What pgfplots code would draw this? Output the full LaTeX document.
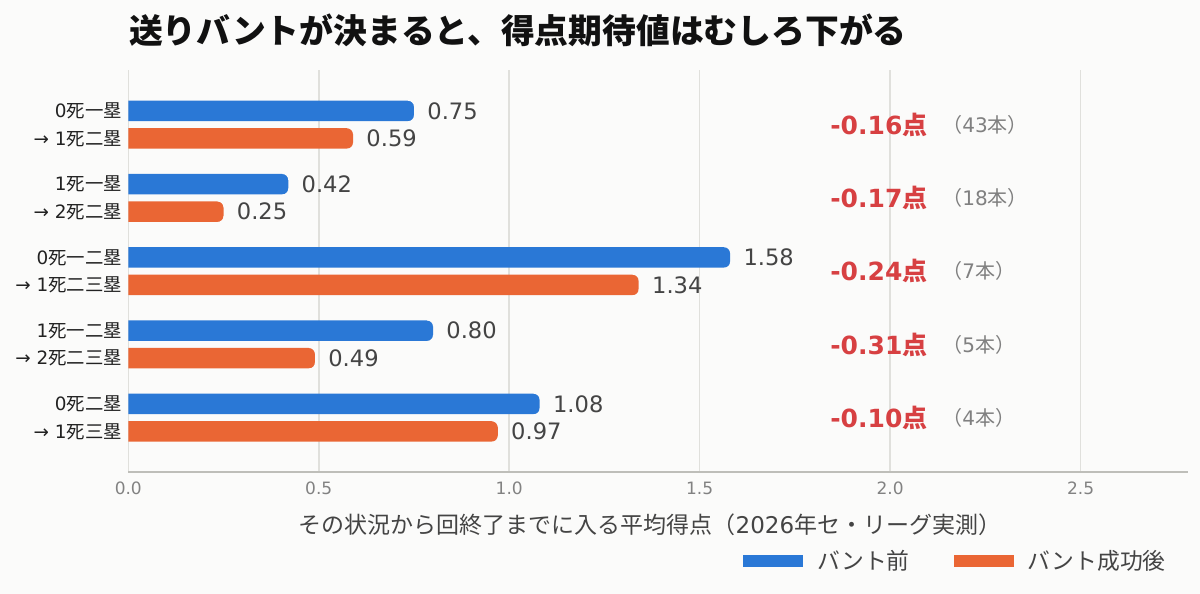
\documentclass[border=0pt]{standalone}
\usepackage{pgfplots}
\pgfplotsset{compat=1.18}
\usepackage{fontspec}
\setmainfont{Noto Sans CJK JP}
\newfontfamily\dv{DejaVu Sans}
\definecolor{bgcol}{RGB}{251,251,250}
\definecolor{cblue}{RGB}{42,120,214}
\definecolor{corange}{RGB}{234,102,52}
\definecolor{credtxt}{RGB}{215,64,66}
\definecolor{cgrey}{RGB}{128,128,128}
\definecolor{valcol}{RGB}{68,68,68}
\definecolor{xtickcol}{RGB}{130,130,130}
\definecolor{ytickcol}{RGB}{34,34,34}
\definecolor{gridcol}{RGB}{224,224,220}
\definecolor{axiscol}{RGB}{190,190,185}
\definecolor{titlecol}{RGB}{17,17,17}
\definecolor{labelcol}{RGB}{68,68,68}
% mask that rounds the right end of each bar
\pgfdeclareplotmark{cornercut}{%
  \pgfpathmoveto{\pgfpoint{0.6pt}{2.125pt}}%
  \pgfpathlineto{\pgfpoint{0pt}{2.125pt}}%
  \pgfpatharc{0}{90}{3pt}%
  \pgfpathlineto{\pgfpoint{-3pt}{5.7pt}}%
  \pgfpathlineto{\pgfpoint{0.6pt}{5.7pt}}%
  \pgfpathclose
  \pgfpathmoveto{\pgfpoint{0.6pt}{-2.125pt}}%
  \pgfpathlineto{\pgfpoint{0pt}{-2.125pt}}%
  \pgfpatharc{0}{-90}{3pt}%
  \pgfpathlineto{\pgfpoint{-3pt}{-5.7pt}}%
  \pgfpathlineto{\pgfpoint{0.6pt}{-5.7pt}}%
  \pgfpathclose
  \pgfusepathqfill
}
\pgfplotsset{
  mybar/.style={xbar, bar shift=0pt, bar width=10.25pt, draw=none,
    mark=cornercut, mark options={fill=bgcol, draw=none},
    legend image code/.code={\fill[draw=none,##1] (0pt,-3pt) rectangle (30pt,3pt);}},
}
\begin{document}
\begin{tikzpicture}
\fill[bgcol] (0,0) rectangle (600pt,-297pt);
\node[anchor=west, inner sep=0pt, font=\bfseries\fontsize{16.9}{20}\selectfont, text=titlecol] at (64.3pt,-15pt) {送りバントが決まると、得点期待値はむしろ下がる};
\begin{axis}[
  at={(64.15pt,-35pt)}, anchor=north west,
  scale only axis, width=529.85pt, height=201pt,
  xmin=0, xmax=2.782, ymin=-0.747, ymax=4.741, y dir=reverse,
  axis x line*=bottom, axis y line*=left,
  x axis line style={draw=axiscol, line width=0.8pt, -},
  y axis line style={draw=none},
  xtick={0,0.5,1,1.5,2,2.5},
  major tick length=0pt,
  xmajorgrids, grid style={gridcol, line width=0.75pt},
  /pgf/number format/assume math mode=true,
  xticklabel style={font=\dv\fontsize{8.5}{10}\selectfont, text=xtickcol, anchor=center, yshift=-8pt,
    /pgf/number format/.cd, fixed, fixed zerofill, precision=1},
  ytick={-0.1877,0.1877,0.8123,1.1877,1.8123,2.1877,2.8123,3.1877,3.8123,4.1877},
  yticklabels={{{\dv 0}死一塁},{{\dv → 1}死二塁},{{\dv 1}死一塁},{{\dv → 2}死二塁},{{\dv 0}死一二塁},{{\dv → 1}死二三塁},{{\dv 1}死一二塁},{{\dv → 2}死二三塁},{{\dv 0}死二塁},{{\dv → 1}死三塁}},
  yticklabel style={anchor=east, inner sep=0pt, xshift=-3pt, font=\fontsize{9.2}{11}\selectfont, text=ytickcol},
  xlabel={その状況から回終了までに入る平均得点（{\dv 2026}年セ・リーグ実測）},
  xlabel style={at={(axis description cs:0.4923,0)}, anchor=center, yshift=-26.5pt, font=\fontsize{11.5}{13}\selectfont, text=labelcol},
  point meta=x,
  nodes near coords={\pgfmathprintnumber[fixed,fixed zerofill,precision=2]{\pgfplotspointmeta}},
  nodes near coords style={anchor=west, inner sep=0pt, xshift=6.5pt, font=\dv\fontsize{11.3}{13}\selectfont, text=valcol},
  legend columns=2,
  legend style={at={(axis description cs:0.5801,-0.2214)}, anchor=west, draw=none, fill=none, inner sep=0pt,
    font=\fontsize{11.4}{13}\selectfont, text=labelcol, nodes={inner sep=0pt},
    /tikz/every even column/.append style={column sep=22pt},
    /tikz/every odd column/.append style={column sep=7pt}},
]
\addplot[mybar, fill=cblue] coordinates {(0.75,-0.1877) (0.42,0.8123) (1.58,1.8123) (0.80,2.8123) (1.08,3.8123)};
\addlegendentry{バント前}
\addplot[mybar, fill=corange] coordinates {(0.59,0.1877) (0.25,1.1877) (1.34,2.1877) (0.49,3.1877) (0.97,4.1877)};
\addlegendentry{バント成功後}
\node[anchor=west, inner sep=0pt, font=\dv\bfseries\fontsize{12.5}{14}\selectfont, text=credtxt] at (axis cs:1.842,0) {-0.16{\rmfamily\bfseries 点}};
\node[anchor=west, inner sep=0pt, font=\dv\bfseries\fontsize{12.5}{14}\selectfont, text=credtxt] at (axis cs:1.842,1) {-0.17{\rmfamily\bfseries 点}};
\node[anchor=west, inner sep=0pt, font=\dv\bfseries\fontsize{12.5}{14}\selectfont, text=credtxt] at (axis cs:1.842,2) {-0.24{\rmfamily\bfseries 点}};
\node[anchor=west, inner sep=0pt, font=\dv\bfseries\fontsize{12.5}{14}\selectfont, text=credtxt] at (axis cs:1.842,3) {-0.31{\rmfamily\bfseries 点}};
\node[anchor=west, inner sep=0pt, font=\dv\bfseries\fontsize{12.5}{14}\selectfont, text=credtxt] at (axis cs:1.842,4) {-0.10{\rmfamily\bfseries 点}};
\node[anchor=west, inner sep=0pt, font=\fontsize{10}{12}\selectfont, text=cgrey] at (axis cs:2.136,0) {（{\dv 43}本）};
\node[anchor=west, inner sep=0pt, font=\fontsize{10}{12}\selectfont, text=cgrey] at (axis cs:2.136,1) {（{\dv 18}本）};
\node[anchor=west, inner sep=0pt, font=\fontsize{10}{12}\selectfont, text=cgrey] at (axis cs:2.136,2) {（{\dv 7}本）};
\node[anchor=west, inner sep=0pt, font=\fontsize{10}{12}\selectfont, text=cgrey] at (axis cs:2.136,3) {（{\dv 5}本）};
\node[anchor=west, inner sep=0pt, font=\fontsize{10}{12}\selectfont, text=cgrey] at (axis cs:2.136,4) {（{\dv 4}本）};
\end{axis}
\pgfresetboundingbox
\path[use as bounding box] (0,0) rectangle (600pt,-297pt);
\end{tikzpicture}
\end{document}
